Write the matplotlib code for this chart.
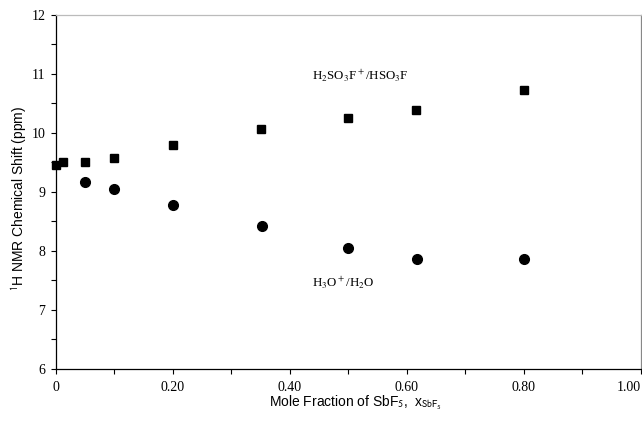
import matplotlib
matplotlib.use('Agg')
import matplotlib.pyplot as plt
from matplotlib.ticker import MultipleLocator, FixedLocator

# H2SO3F+/HSO3F (squares)
x_acid = [0.0, 0.013, 0.05, 0.10, 0.20, 0.35, 0.50, 0.615, 0.80]
y_acid = [9.45, 9.51, 9.51, 9.58, 9.79, 10.06, 10.25, 10.39, 10.73]

# H3O+/H2O (circles)
x_water = [0.05, 0.10, 0.20, 0.353, 0.50, 0.617, 0.80]
y_water = [9.17, 9.05, 8.77, 8.42, 8.05, 7.87, 7.86]

xtick_vals = [0, 0.2, 0.4, 0.6, 0.8, 1.0]
xtick_labels = ['0', '0.20', '0.40', '0.60', '0.80', '1.00']

fig = plt.figure(figsize=(6.42, 4.23), dpi=100)
ax = fig.add_axes([0.087, 0.128, 0.911, 0.837])

ax.plot(x_acid, y_acid, 's', color='black', markersize=5.8, clip_on=False)
ax.plot(x_water, y_water, 'o', color='black', markersize=7, clip_on=False)

ax.set_xlim(0, 1.0)
ax.set_ylim(6, 12)

ax.xaxis.set_major_locator(FixedLocator(xtick_vals))
ax.set_xticklabels(xtick_labels)
ax.xaxis.set_minor_locator(MultipleLocator(0.1))
ax.yaxis.set_major_locator(MultipleLocator(1))
ax.yaxis.set_minor_locator(MultipleLocator(0.5))
ax.tick_params(which='both', direction='out', length=3.5, width=0.8)
ax.tick_params(which='major', labelsize=10)
ax.tick_params(axis='x', pad=5)
ax.tick_params(axis='y', pad=4)
for lab in ax.get_xticklabels() + ax.get_yticklabels():
    lab.set_fontfamily('Liberation Serif')
ax.get_xticklabels()[-1].set_horizontalalignment('right')

for sp in ax.spines.values():
    sp.set_linewidth(0.9)
ax.spines['top'].set_color('#bbbbbb')
ax.spines['right'].set_color('#888888')

# axis titles placed in figure coordinates
fig.text(356 / 642, 1 - 403 / 423, 'Mole Fraction of SbF$_5$,  x$_{\\mathrm{SbF_5}}$',
         fontfamily='Liberation Sans', fontsize=10, ha='center', va='center',
         math_fontfamily='stixsans')
fig.text(19 / 642, 1 - 198 / 423, '$^1$H NMR Chemical Shift (ppm)',
         fontfamily='Liberation Sans', fontsize=10, ha='center', va='center',
         rotation=90, math_fontfamily='stixsans')

ax.text(0.438, 10.97, 'H$_2$SO$_3$F$^+$/HSO$_3$F', fontfamily='Liberation Serif',
        fontsize=9.3, ha='left', va='center', math_fontfamily='stix')
ax.text(0.438, 7.46, 'H$_3$O$^+$/H$_2$O', fontfamily='Liberation Serif',
        fontsize=9.3, ha='left', va='center', math_fontfamily='stix')

fig.savefig('out.png', dpi=100)
